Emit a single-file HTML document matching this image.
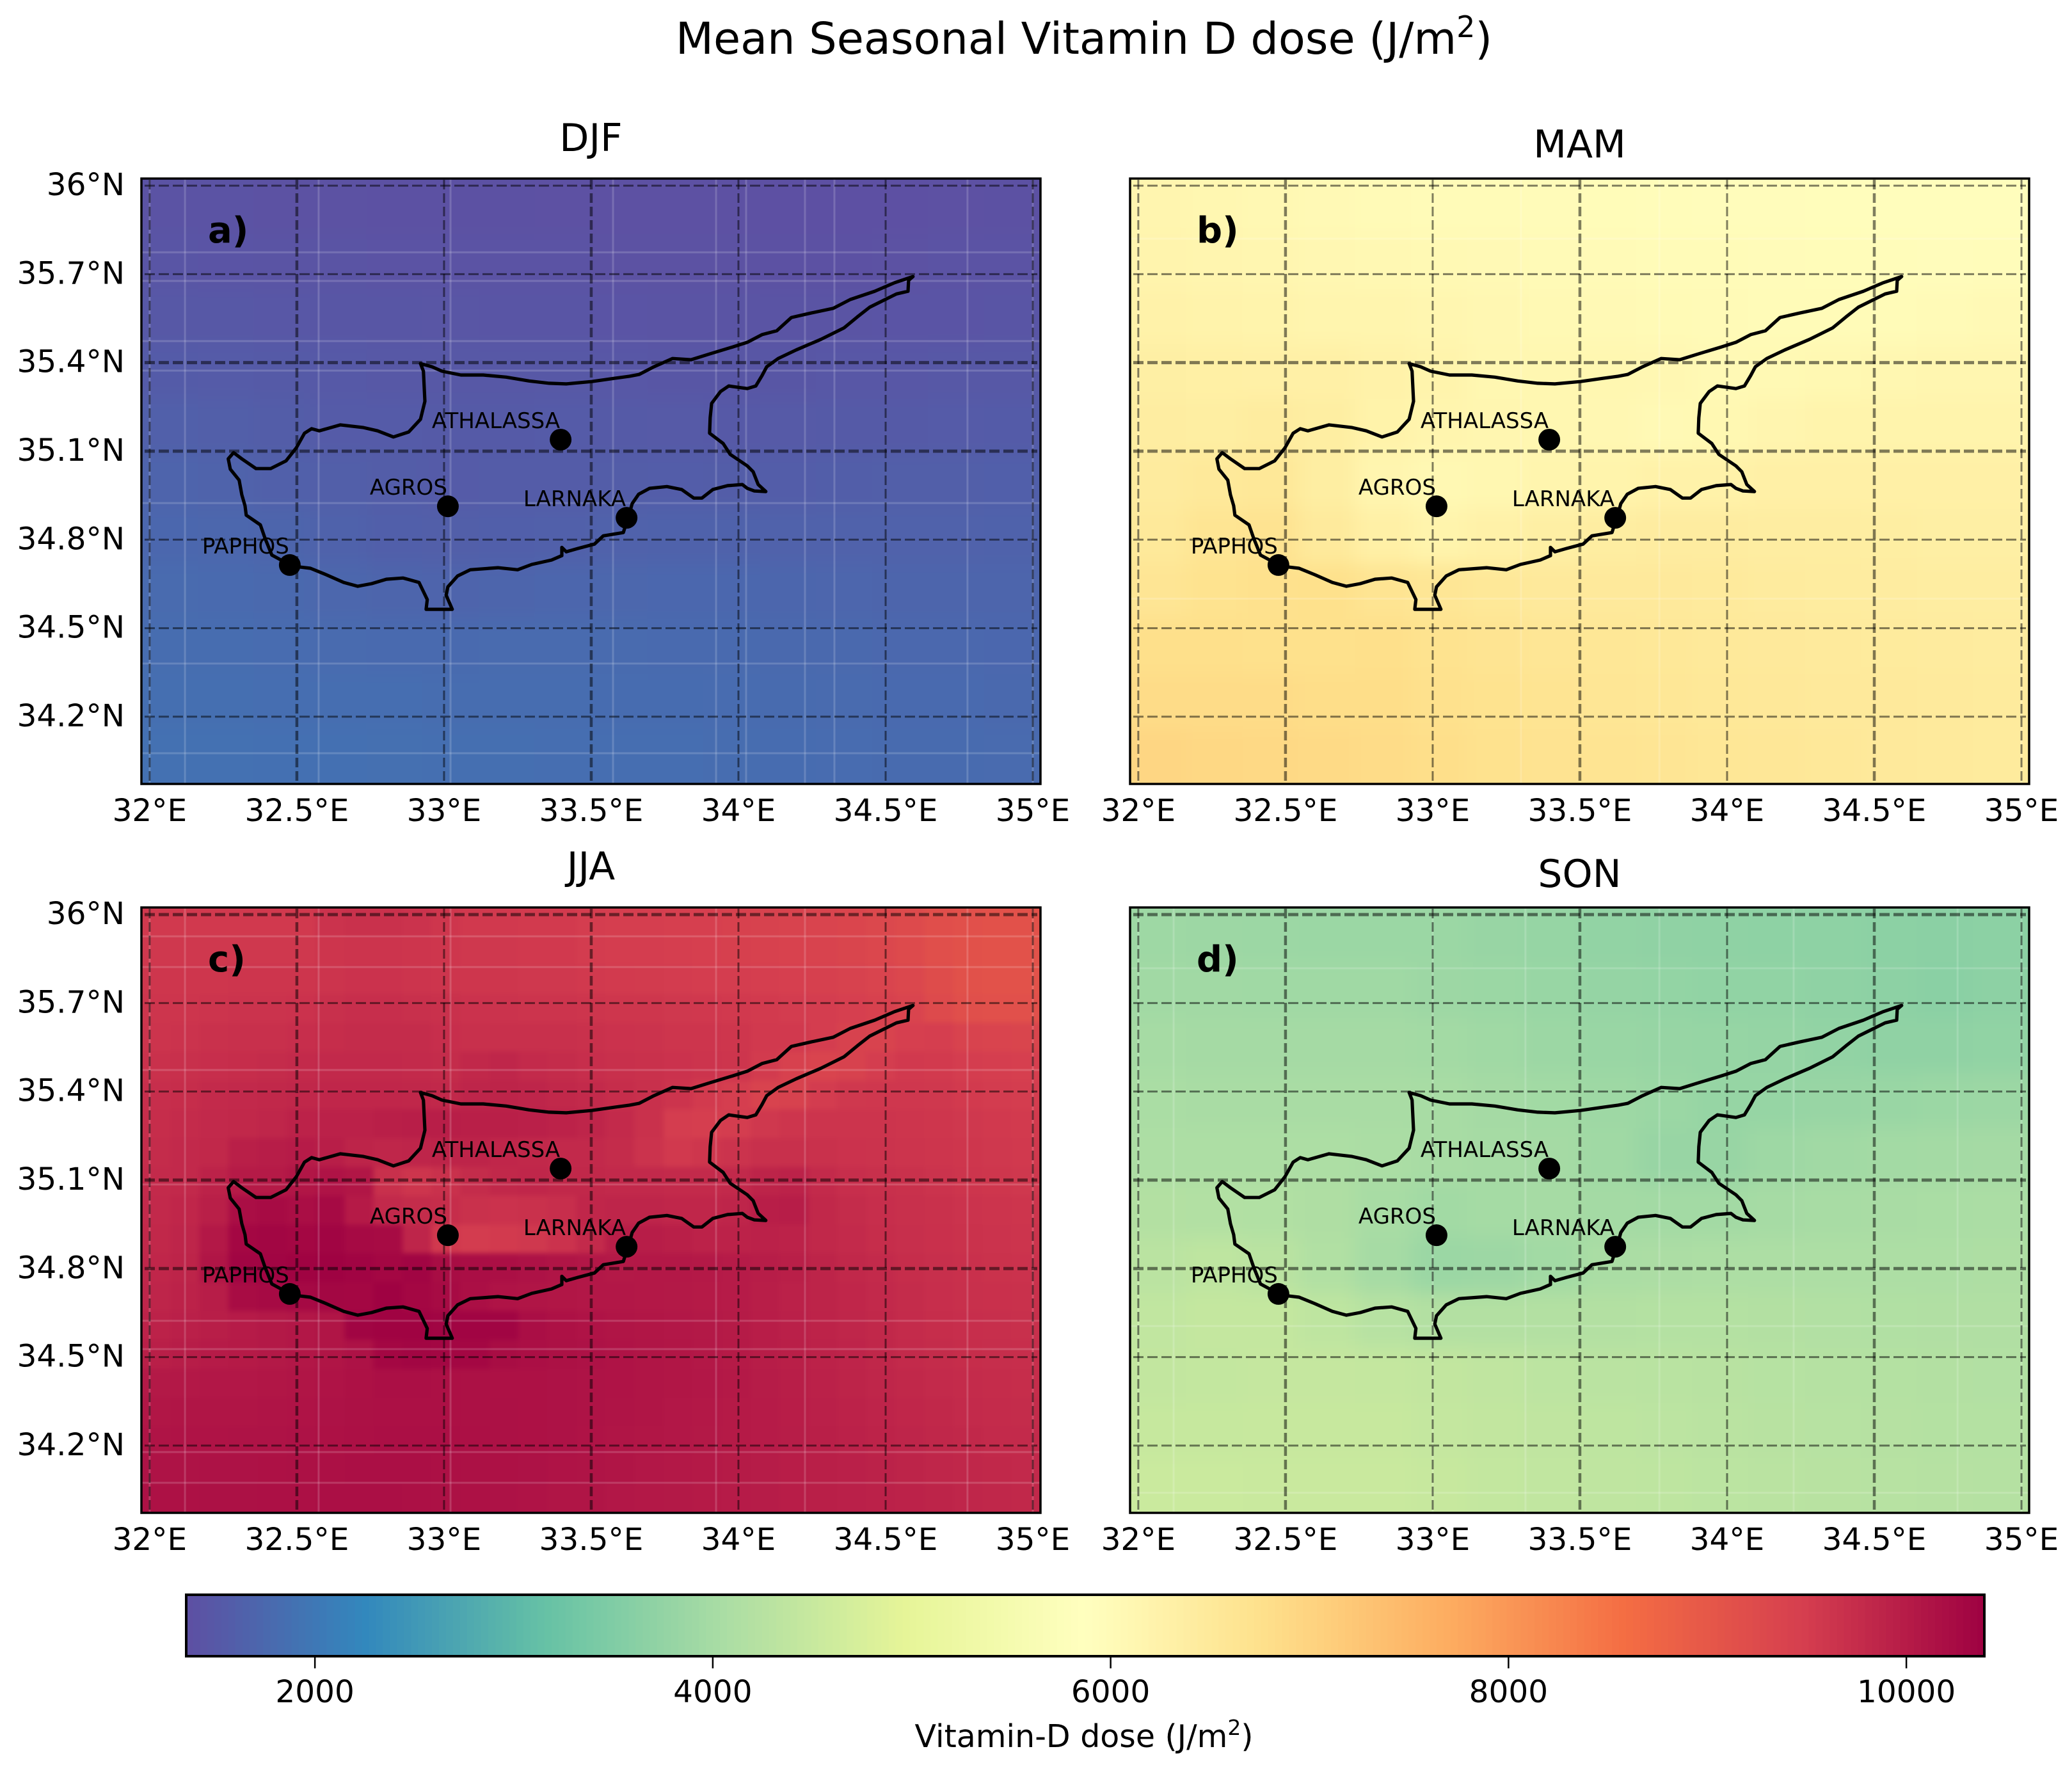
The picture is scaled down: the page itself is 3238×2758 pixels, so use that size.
<!DOCTYPE html>
<html lang="en">
<head>
<meta charset="utf-8">
<title>Mean Seasonal Vitamin D dose</title>
<style>
html,body{margin:0;padding:0;background:#fff;width:3238px;height:2758px;overflow:hidden}
svg{display:block;position:absolute;left:0;top:0}
text{font-family:"DejaVu Sans","Liberation Sans",sans-serif;fill:#000}
</style>
</head>
<body>
<svg id="chart" xmlns="http://www.w3.org/2000/svg" width="3238" height="2758" viewBox="0 0 3238 2758">
  <rect x="0" y="0" width="3238" height="2758" fill="#ffffff"/>
  <text x="1694" y="84" font-size="68.5" text-anchor="middle">Mean Seasonal Vitamin D dose (J/m<tspan font-size="46" dy="-26">2</tspan><tspan dy="26">)</tspan></text>
  <text x="1694" y="2730" font-size="49" text-anchor="middle">Vitamin-D dose (J/m<tspan font-size="33" dy="-19">2</tspan><tspan dy="19">)</tspan></text>
</svg>
<script>
// ---- Colour scale ----
const colorStops = ['#5e4fa2','#3288bd','#66c2a5','#abdda4','#e6f598','#ffffbf','#fee08b','#fdae61','#f46d43','#d53e4f','#9e0142'];
const valueMin = 1353;
const valueMax = 10392;
const colorbarTicks = [2000, 4000, 6000, 8000, 10000];

// ---- Axes ticks ----
const lonTicks = [32, 32.5, 33, 33.5, 34, 34.5, 35];
const lonTickLabels = ['32°E','32.5°E','33°E','33.5°E','34°E','34.5°E','35°E'];
const latTicks = [36, 35.7, 35.4, 35.1, 34.8, 34.5, 34.2];
const latTickLabels = ['36°N','35.7°N','35.4°N','35.1°N','34.8°N','34.5°N','34.2°N'];

// ---- Stations ----
const stationNames = ['ATHALASSA','AGROS','LARNAKA','PAPHOS'];
const stationLons = [33.396, 33.013, 33.620, 32.476];
const stationLats = [35.139, 34.913, 34.874, 34.714];

// ---- Coastline ----
const coastLons = [32.920,32.959,32.993,33.057,33.133,33.211,33.289,33.357,33.415,33.502,33.580,33.630,33.663,33.713,33.776,33.839,33.904,33.980,34.030,34.080,34.130,34.180,34.246,34.322,34.380,34.463,34.528,34.593,34.578,34.576,34.537,34.446,34.404,34.359,34.280,34.196,34.135,34.096,34.080,34.059,34.030,33.967,33.939,33.909,33.904,33.902,33.948,33.972,34.030,34.050,34.067,34.093,34.054,34.030,34.013,33.963,33.913,33.876,33.848,33.807,33.757,33.698,33.661,33.639,33.633,33.609,33.541,33.511,33.454,33.415,33.400,33.400,33.365,33.298,33.250,33.183,33.089,33.046,33.013,33.007,33.028,32.939,32.943,32.915,32.861,32.804,32.754,32.707,32.659,32.600,32.546,32.513,32.474,32.415,32.391,32.376,32.328,32.324,32.313,32.304,32.274,32.267,32.285,32.313,32.361,32.411,32.463,32.498,32.526,32.550,32.576,32.648,32.726,32.774,32.828,32.880,32.920,32.935,32.930,32.920];
const coastLats = [35.397,35.386,35.371,35.358,35.358,35.351,35.338,35.330,35.328,35.336,35.347,35.354,35.360,35.386,35.414,35.410,35.430,35.453,35.469,35.495,35.508,35.553,35.568,35.584,35.614,35.642,35.670,35.692,35.679,35.642,35.633,35.588,35.555,35.518,35.479,35.443,35.414,35.386,35.356,35.321,35.312,35.321,35.302,35.262,35.213,35.161,35.126,35.089,35.050,35.030,34.987,34.963,34.965,34.974,34.987,34.983,34.970,34.941,34.941,34.970,34.980,34.974,34.954,34.922,34.900,34.824,34.813,34.785,34.770,34.759,34.774,34.746,34.731,34.716,34.698,34.705,34.698,34.677,34.640,34.612,34.564,34.564,34.597,34.655,34.670,34.666,34.651,34.642,34.655,34.681,34.703,34.707,34.716,34.748,34.807,34.850,34.883,34.915,34.952,35.002,35.039,35.074,35.095,35.074,35.041,35.041,35.067,35.111,35.161,35.176,35.169,35.189,35.180,35.169,35.148,35.165,35.208,35.269,35.371,35.397];

// ---- Seasonal dose grids, north to south, west to east ----
const djfDose = [
[1420,1410,1400,1400,1390,1390,1390,1380,1380,1380,1380,1370,1370,1370,1380,1390],
[1450,1440,1430,1430,1420,1420,1410,1410,1400,1400,1400,1390,1390,1400,1410,1420],
[1500,1490,1480,1470,1470,1460,1450,1450,1440,1430,1430,1430,1430,1440,1440,1450],
[1550,1540,1530,1510,1500,1500,1490,1490,1480,1470,1470,1470,1480,1480,1490,1500],
[1620,1600,1570,1540,1540,1530,1530,1540,1530,1520,1510,1520,1530,1530,1540,1550],
[1680,1670,1630,1600,1570,1540,1560,1560,1570,1580,1570,1580,1590,1600,1600,1610],
[1740,1730,1700,1660,1610,1600,1610,1620,1650,1660,1660,1650,1650,1650,1650,1660],
[1790,1780,1770,1730,1700,1690,1700,1720,1730,1740,1740,1720,1710,1700,1700,1700],
[1830,1830,1810,1790,1780,1780,1790,1790,1790,1780,1780,1770,1760,1750,1750,1740],
[1860,1860,1850,1840,1840,1830,1830,1830,1820,1820,1810,1800,1790,1780,1780,1770],
[1890,1890,1880,1880,1870,1860,1860,1850,1850,1840,1830,1820,1810,1800,1800,1790]
];
const mamDose = [
[6150,6120,6080,6050,6020,6000,5990,5980,5970,5960,5950,5950,5940,5930,5930,5930],
[6180,6150,6130,6100,6080,6060,6040,6020,6010,6000,5990,5980,5970,5960,5950,5960],
[6250,6220,6200,6170,6160,6130,6100,6060,6040,6030,6020,6000,5990,6000,6020,6040],
[6350,6320,6300,6300,6260,6200,6120,6120,6120,6100,6050,6060,6090,6120,6130,6140],
[6400,6380,6430,6380,6230,6160,6130,6120,6100,6050,6090,6150,6200,6200,6200,6200],
[6450,6520,6550,6380,6150,6080,6120,6160,6200,6250,6250,6300,6300,6300,6300,6300],
[6520,6640,6680,6480,6300,6200,6280,6350,6400,6420,6420,6400,6400,6380,6350,6350],
[6620,6700,6740,6760,6650,6600,6550,6500,6500,6500,6480,6450,6430,6420,6400,6400],
[6780,6780,6760,6760,6780,6700,6650,6600,6580,6550,6520,6500,6480,6460,6450,6430],
[6850,6850,6850,6820,6820,6750,6700,6650,6600,6580,6550,6530,6500,6500,6480,6460],
[6950,6920,6900,6880,6850,6800,6720,6680,6650,6620,6580,6560,6530,6500,6480,6470]
];
const jjaDose = [
[9560,9560,9560,9560,9560,9560,9650,9680,9680,9650,9600,9560,9560,9540,9540,9500,9480,9480,9460,9460,9440,9420,9400,9380,9350,9300,9260,9180,9150,9120,9120],
[9580,9580,9580,9580,9580,9580,9620,9640,9640,9620,9600,9580,9580,9560,9560,9520,9500,9500,9480,9470,9450,9430,9410,9390,9360,9310,9260,9170,9130,9110,9100],
[9600,9600,9600,9620,9620,9620,9640,9660,9660,9640,9620,9600,9600,9580,9580,9560,9540,9530,9520,9510,9500,9480,9470,9450,9420,9380,9320,9220,9130,9110,9110],
[9620,9620,9640,9650,9650,9660,9700,9720,9720,9700,9680,9660,9650,9640,9640,9620,9610,9600,9580,9570,9560,9540,9520,9500,9470,9430,9380,9250,9170,9150,9150],
[9640,9650,9680,9700,9700,9720,9740,9760,9760,9760,9720,9700,9700,9700,9700,9680,9660,9650,9620,9620,9600,9560,9560,9500,9420,9400,9470,9480,9400,9380,9360],
[9680,9700,9720,9740,9760,9780,9800,9800,9800,9780,9760,9820,9850,9780,9760,9720,9700,9680,9660,9640,9620,9530,9440,9380,9420,9500,9560,9540,9500,9480,9460],
[9720,9740,9780,9800,9820,9830,9840,9840,9840,9830,9820,9860,9880,9860,9820,9780,9740,9700,9640,9540,9480,9400,9420,9520,9580,9590,9590,9580,9540,9520,9500],
[9740,9770,9800,9820,9850,9900,9920,9920,9950,9960,9960,9950,9950,9940,9900,9860,9780,9680,9500,9480,9500,9580,9620,9640,9640,9640,9620,9600,9580,9560,9540],
[9760,9800,9820,9950,9980,10000,9960,9880,9850,9860,9880,9880,9840,9820,9800,9800,9760,9650,9560,9600,9650,9700,9700,9680,9660,9650,9640,9620,9600,9580,9560],
[9780,9800,9900,10020,10020,10080,10120,10080,9700,9620,9680,9760,9820,9840,9820,9820,9800,9800,9780,9780,9800,9880,9900,9780,9720,9700,9680,9650,9620,9600,9580],
[9800,9840,9950,10200,10240,10200,10260,10020,9800,9760,9740,9680,9660,9680,9720,9840,9860,9860,9840,9840,9860,9960,9980,9820,9760,9720,9700,9680,9650,9630,9620],
[9820,9860,10050,10300,10320,10300,10340,10260,10240,9860,9560,9520,9540,9580,9660,9780,9960,9980,9950,9900,9900,9920,9900,9820,9780,9740,9710,9690,9670,9650,9640],
[9840,9880,10100,10340,10340,10360,10370,10350,10300,10340,10220,10200,10180,10140,10100,10060,10040,10050,10050,10030,10000,9980,9950,9880,9820,9780,9740,9710,9690,9670,9660],
[9860,9900,9980,10230,10260,10280,10310,10300,10380,10300,10250,10180,10120,10100,10080,10060,10060,10050,10040,10020,10000,9960,9920,9880,9840,9800,9760,9720,9700,9690,9680],
[9900,9930,9960,10000,10040,10060,10100,10340,10360,10360,10340,10350,10340,10200,10150,10120,10100,10080,10060,10040,10010,9970,9930,9890,9850,9810,9770,9740,9720,9710,9700],
[9950,9980,10000,10020,10040,10060,10100,10140,10300,10320,10310,10300,10220,10180,10160,10140,10120,10100,10080,10050,10020,9980,9950,9900,9870,9830,9790,9760,9740,9730,9720],
[10040,10050,10060,10070,10080,10100,10120,10150,10180,10180,10170,10160,10150,10150,10140,10130,10120,10100,10080,10060,10030,9990,9960,9920,9880,9850,9810,9790,9770,9750,9740],
[10080,10090,10090,10100,10110,10120,10140,10160,10170,10170,10170,10160,10160,10150,10140,10130,10110,10090,10070,10050,10020,10000,9970,9940,9900,9870,9840,9810,9790,9770,9760],
[10110,10120,10120,10130,10130,10140,10150,10170,10180,10180,10180,10170,10160,10150,10140,10120,10100,10080,10060,10040,10020,10000,9980,9950,9920,9890,9860,9830,9810,9790,9780],
[10130,10130,10140,10140,10150,10160,10170,10180,10180,10180,10170,10160,10150,10140,10120,10110,10090,10070,10050,10030,10010,9990,9970,9950,9930,9910,9880,9850,9830,9820,9800],
[10150,10150,10160,10160,10170,10170,10180,10180,10180,10170,10160,10150,10140,10120,10100,10090,10070,10050,10040,10020,10000,9990,9970,9950,9940,9920,9900,9880,9850,9830,9820]
];
const sonDose = [
[3900,3880,3870,3860,3860,3850,3810,3790,3740,3710,3700,3690,3680,3660,3640,3660],
[3940,3930,3920,3920,3920,3880,3860,3820,3780,3750,3730,3720,3700,3670,3630,3670],
[4000,3980,3980,3980,3980,3960,3920,3870,3830,3800,3790,3770,3740,3710,3710,3730],
[4050,4040,4040,4040,4040,4020,3980,3950,3900,3850,3790,3790,3810,3830,3850,3870],
[4100,4100,4090,4090,4060,4020,4000,3980,3920,3810,3810,3900,3940,3960,3970,3980],
[4180,4170,4160,4120,4030,3950,3990,4000,3970,3960,3960,4000,4020,4040,4050,4060],
[4300,4350,4300,4160,4000,3850,3880,3950,4050,4080,4100,4100,4100,4100,4100,4110],
[4400,4450,4450,4350,4250,4180,4180,4180,4180,4200,4200,4180,4170,4160,4150,4150],
[4420,4440,4460,4460,4450,4420,4380,4320,4300,4280,4260,4240,4220,4200,4180,4170],
[4480,4480,4490,4490,4490,4450,4420,4380,4350,4320,4290,4270,4250,4230,4210,4200],
[4540,4540,4530,4530,4530,4490,4440,4400,4370,4350,4310,4290,4270,4250,4230,4220]
];

// ---- Panels ----
const panelSeasons = ['DJF','MAM','JJA','SON'];
const panelLetters = ['a)','b)','c)','d)'];
const panelGrids = [djfDose, mamDose, jjaDose, sonDose];
const panelFaintLons = [
  [32,32.12,32.574,33.022,33.574,33.924,34.026,34.226,34.326,34.778,35],
  [32,33.3,33.77,35],
  [32,32.12,32.574,33.022,33.924,34.226,34.778,35],
  [32,32.12,33,33.315,33.77,34.226,34.783,35]
];
const panelFaintLats = [
  [35.774,35.677,35.473,35.373,34.924,34.38,34.076],
  [35.82,34.6],
  [35.926,35.822,35.473,35.085,34.623,34.527,34.178,34.074],
  [35.818,34.605,34.04]
];
const panelHeavyLats = [[35.4,35.1],[35.4,35.1],[36,35.1,34.8],[36,35.1,34.8]];
const panelHeavyLons = [[32.5,33.5],[32.5,33.5,34.5],[32.5,33.5],[32.5,33.5,34.5]];

// ---- Layout ----
const panelLeftEdges = [221,1766,221,1766];
const panelTopEdges = [279,279,1418,1418];
const panelTitleBaselines = [236,246,1374,1386];
const panelW = 1405;
const panelH = 946;
const lonMin = 31.972, lonMax = 35.026, latMax = 36.024, latMin = 33.972;

const svg = document.getElementById('chart');
const NS = 'http://www.w3.org/2000/svg';
const defs = document.createElementNS(NS, 'defs');
svg.insertBefore(defs, svg.firstChild);
function make(tag, parent, attrs) {
  const el = document.createElementNS(NS, tag);
  for (const k in attrs) el.setAttribute(k, attrs[k]);
  parent.appendChild(el);
  return el;
}
function hexRgb(h) { return [1,3,5].map(i => parseInt(h.substr(i,2),16)); }
function colorFor(v) {
  let t = (v - valueMin) / (valueMax - valueMin);
  t = Math.max(0, Math.min(1, t)) * (colorStops.length - 1);
  const i = Math.min(Math.floor(t), colorStops.length - 2);
  const f = t - i, a = hexRgb(colorStops[i]), b = hexRgb(colorStops[i+1]);
  return 'rgb(' + a.map((c,k) => Math.round(c + (b[k]-c)*f)).join(',') + ')';
}

panelSeasons.forEach(function(season, p) {
  const left = panelLeftEdges[p], top = panelTopEdges[p];
  const xOf = lon => left + (lon - lonMin) / (lonMax - lonMin) * panelW;
  const yOf = lat => top + (latMax - lat) / (latMax - latMin) * panelH;
  const key = season.toLowerCase();

  const g = make('g', svg, {});
  
  

  const title = make('text', g, {x: left + panelW/2, y: panelTitleBaselines[p], 'font-size': 60, 'text-anchor': 'middle'});
  title.textContent = season;
  
  

  // heatmap: soft blur of the grid cells, clipped to the axes
  const grid = panelGrids[p];
  const nRows = grid.length;
  const bleed = 70;
  const clip = make('clipPath', defs, {id: 'clip-' + key});
  make('rect', clip, {x: left, y: top, width: panelW, height: panelH});
  const soften = make('filter', defs, {id: 'soften-' + key, filterUnits: 'userSpaceOnUse', x: left - bleed, y: top - bleed, width: panelW + 2*bleed, height: panelH + 2*bleed, 'color-interpolation-filters': 'sRGB'});
  make('feGaussianBlur', soften, {stdDeviation: grid[0].length > 20 ? 4 : 14});
  const heatClip = make('g', g, {'clip-path': 'url(#clip-' + key + ')'});
  
  
  const heat = make('g', heatClip, {'shape-rendering': 'crispEdges', filter: 'url(#soften-' + key + ')'});
  
  
  grid.forEach(function(row, j) {
    const nCols = row.length;
    row.forEach(function(v, i) {
      const lonA = lonMin + (lonMax - lonMin) * i / nCols;
      const lonB = lonMin + (lonMax - lonMin) * (i + 1) / nCols;
      const latA = latMax - (latMax - latMin) * j / nRows;
      const latB = latMax - (latMax - latMin) * (j + 1) / nRows;
      let x0 = xOf(lonA), x1 = xOf(lonB) + 0.6, y0 = yOf(latA), y1 = yOf(latB) + 0.6;
      if (i === 0) x0 -= bleed;
      if (i === nCols - 1) x1 += bleed;
      if (j === 0) y0 -= bleed;
      if (j === nRows - 1) y1 += bleed;
      const cell = make('rect', heat, {x: x0.toFixed(2), y: y0.toFixed(2), width: (x1 - x0).toFixed(2), height: (y1 - y0).toFixed(2), fill: colorFor(v)});
      
      
    });
  });

  // faint solid lines
  panelFaintLons[p].forEach(function(lon) {
    const l = make('line', g, {x1: xOf(lon), x2: xOf(lon), y1: top, y2: top + panelH, stroke: 'rgba(255,255,255,0.17)', 'stroke-width': 3});
    
    
  });
  panelFaintLats[p].forEach(function(lat) {
    const l = make('line', g, {x1: left, x2: left + panelW, y1: yOf(lat), y2: yOf(lat), stroke: 'rgba(255,255,255,0.17)', 'stroke-width': 3});
    
    
  });

  // dashed graticule
  lonTicks.forEach(function(lon) {
    const w = panelHeavyLons[p].includes(lon) ? 4.5 : 3;
    const l = make('line', g, {x1: xOf(lon), x2: xOf(lon), y1: top + 2, y2: top + panelH - 2, stroke: 'rgba(0,0,0,0.5)', 'stroke-width': w, 'stroke-dasharray': '15 6'});
    
    
  });
  latTicks.forEach(function(lat) {
    const w = panelHeavyLats[p].includes(lat) ? 5 : 3;
    const l = make('line', g, {x1: left + 5, x2: left + panelW - 5, y1: yOf(lat), y2: yOf(lat), stroke: 'rgba(0,0,0,0.5)', 'stroke-width': w, 'stroke-dasharray': '16 6'});
    
    
  });

  // coast
  const pts = coastLons.map((lon, i) => xOf(lon).toFixed(1) + ',' + yOf(coastLats[i]).toFixed(1)).join(' ');
  const coast = make('polyline', g, {points: pts, fill: 'none', stroke: '#000', 'stroke-width': 5.2, 'stroke-linejoin': 'round', 'stroke-linecap': 'round'});
  
  

  // stations
  stationNames.forEach(function(name, i) {
    const cx = xOf(stationLons[i]), cy = yOf(stationLats[i]);
    const dot = make('circle', g, {cx: cx, cy: cy, r: 17, fill: '#000'});
    
    
    const label = make('text', g, {x: cx - 1, y: cy - 18, 'font-size': 34, 'text-anchor': 'end'});
    label.textContent = name;
    
    
  });

  // panel letter
  const letter = make('text', g, {x: left + 104, y: top + 100, 'font-size': 56, 'font-weight': 'bold'});
  letter.textContent = panelLetters[p];
  
  

  // spine
  const spine = make('rect', g, {x: left, y: top, width: panelW, height: panelH, fill: 'none', stroke: '#000', 'stroke-width': 3.5});
  
  

  // x tick labels
  lonTicks.forEach(function(lon, i) {
    const t = make('text', g, {x: xOf(lon), y: top + panelH + 58, 'font-size': 48.5, 'text-anchor': 'middle'});
    t.textContent = lonTickLabels[i];
    
    
  });
  // y tick labels on left panels
  if (p % 2 === 0) {
    latTicks.forEach(function(lat, i) {
      const t = make('text', g, {x: left - 26, y: yOf(lat) + 15, 'font-size': 48.5, 'text-anchor': 'end'});
      t.textContent = latTickLabels[i];
      
      
    });
  }
});

// ---- Colorbar ----
const cbLeft = 291, cbRight = 3101, cbTop = 2492, cbBottom = 2588;
const cbX = v => cbLeft + (v - valueMin) / (valueMax - valueMin) * (cbRight - cbLeft);
const cbGroup = make('g', svg, {'shape-rendering': 'crispEdges'});


for (let i = 0; i < 256; i++) {
  const vA = valueMin + (valueMax - valueMin) * i / 256;
  const vB = valueMin + (valueMax - valueMin) * (i + 1) / 256;
  const seg = make('rect', cbGroup, {x: cbX(vA).toFixed(2), y: cbTop, width: (cbX(vB)-cbX(vA)+0.6).toFixed(2), height: cbBottom - cbTop, fill: colorFor((vA+vB)/2)});
  
  
}
const cbFrame = make('rect', svg, {x: cbLeft, y: cbTop, width: cbRight - cbLeft, height: cbBottom - cbTop, fill: 'none', stroke: '#000', 'stroke-width': 4});


colorbarTicks.forEach(function(v) {
  const tick = make('line', svg, {x1: cbX(v), x2: cbX(v), y1: cbBottom, y2: cbBottom + 19, stroke: '#000', 'stroke-width': 2.5});
  
  
  const t = make('text', svg, {x: cbX(v), y: 2660, 'font-size': 48.5, 'text-anchor': 'middle'});
  t.textContent = String(v);
  
  
});
</script>
</body>
</html>
